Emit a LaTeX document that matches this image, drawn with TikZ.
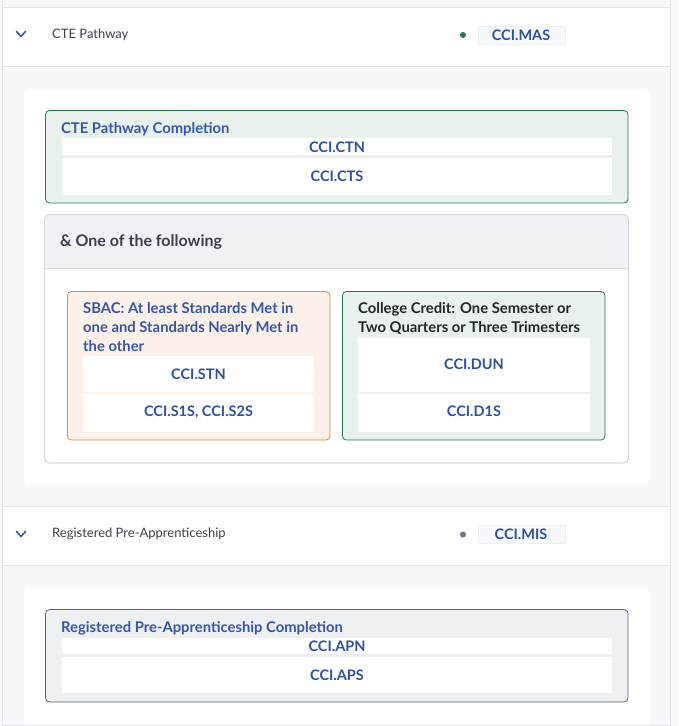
\documentclass[tikz,border=0pt]{standalone}
\usepackage{fontspec}
\setmainfont{Lato}
\definecolor{pagebg}{HTML}{F7F8FA}
\definecolor{linec}{HTML}{E3E6EB}
\definecolor{codeblue}{HTML}{2F4F9F}
\definecolor{titleblue}{HTML}{3556A8}
\definecolor{greenbd}{HTML}{1E7B4F}
\definecolor{greenbg}{HTML}{E8F1EC}
\definecolor{orangebd}{HTML}{E08A3C}
\definecolor{orangebg}{HTML}{FBF1E8}
\definecolor{graybd}{HTML}{5A6275}
\definecolor{graybg}{HTML}{EFF0F2}
\definecolor{headbg}{HTML}{F1F2F6}
\definecolor{headbd}{HTML}{D5D8DE}
\definecolor{darktext}{HTML}{3A3F4B}
\definecolor{chipbg}{HTML}{F7F8FA}
\definecolor{chipbd}{HTML}{EDEFF3}
\definecolor{dotgray}{HTML}{6B7080}
\tikzset{
  rowline/.style={draw=linec, line width=1pt},
  codetext/.style={font=\bfseries\fontsize{14.5}{17}\selectfont, text=codeblue, inner sep=0pt},
  titletext/.style={font=\bfseries\fontsize{14.8}{19}\selectfont, text=titleblue, anchor=west, inner sep=0pt, align=left},
  headtext/.style={font=\fontsize{13}{15}\selectfont, text=darktext, anchor=west, inner sep=0pt},
  whiterow/.style={fill=white},
  chip/.style={fill=chipbg, draw=chipbd, line width=0.6pt},
  chev/.style={draw=codeblue, line width=1.5pt, line cap=round, line join=round},
}
\begin{document}
\begin{tikzpicture}[x=1pt,y=-1pt]
\useasboundingbox (0,0) rectangle (678,726);
\fill[pagebg] (0,0) rectangle (678,726);
\draw[rowline] (2.5,0) -- (2.5,726);
\draw[rowline] (670.5,0) -- (670.5,726);
% header 1
\fill[white] (3,7.5) rectangle (670,66);
\draw[rowline] (3,7.5) -- (670,7.5);
\draw[rowline] (3,66) -- (670,66);
\draw[chev] (16.5,31.5) -- (21,36.5) -- (25.5,31.5);
\node[headtext] (h1) at (52,34.5) {CTE Pathway};
\fill[greenbd] (463,35) circle (3);
\path[chip] (478,26) rectangle (565,44);
\node[codetext] (mas) at (521,35) {CCI.MAS};
% card 1
\fill[white, rounded corners=6pt] (24,89) rectangle (650,484);
% CTE completion
\filldraw[fill=greenbg, draw=greenbd, line width=0.8pt, rounded corners=4pt] (45.5,110.5) rectangle (628,203);
\node[titletext] (ctet) at (61,129) {CTE Pathway Completion};
\fill[whiterow] (62,138) rectangle (612,155);
\node[codetext] (ctn) at (337,147) {CCI.CTN};
\fill[whiterow] (62,157.5) rectangle (612,194.5);
\node[codetext] (cts) at (337,176) {CCI.CTS};
% one of the following
\filldraw[fill=white, draw=headbd, line width=0.8pt, rounded corners=5pt] (44.5,214.5) rectangle (628.5,463);
\begin{scope}
\clip[rounded corners=5pt] (44.5,214.5) rectangle (628.5,463);
\fill[headbg] (44.5,214.5) rectangle (628.5,268);
\end{scope}
\draw[draw=headbd, line width=0.8pt, rounded corners=5pt] (44.5,214.5) rectangle (628.5,463);
\draw[draw=headbd, line width=0.8pt] (44.5,268) -- (628.5,268);
\node[font=\bfseries\fontsize{16}{18}\selectfont, text=darktext, anchor=west, inner sep=0pt] (oneof) at (60,241.5) {\& One of the following};
% SBAC
\filldraw[fill=orangebg, draw=orangebd, line width=0.8pt, rounded corners=4pt] (67.5,291.5) rectangle (330,440);
\node[titletext, anchor=north west] (sbac) at (83,302.5) {SBAC: At least Standards Met in\\one and Standards Nearly Met in\\the other};
\fill[whiterow] (83,356) rectangle (314,391.5);
\node[codetext] (stn) at (198.5,374) {CCI.STN};
\fill[whiterow] (83,394) rectangle (314,431.5);
\node[codetext] (s1s) at (198.5,412) {CCI.S1S, CCI.S2S};
% College credit
\filldraw[fill=greenbg, draw=greenbd, line width=0.8pt, rounded corners=4pt] (342.5,291.5) rectangle (605,440);
\node[titletext, text=black!85, anchor=north west] (cc) at (358,302.5) {College Credit: One Semester or\\Two Quarters or Three Trimesters};
\fill[whiterow] (358,338) rectangle (590,391.5);
\node[codetext] (dun) at (474,364) {CCI.DUN};
\fill[whiterow] (358,394) rectangle (590,431.5);
\node[codetext] (d1s) at (474,411) {CCI.D1S};
% header 2
\fill[white] (3,507) rectangle (670,565);
\draw[rowline] (3,506.5) -- (670,506.5);
\draw[rowline] (3,565) -- (670,565);
\draw[chev] (16.5,531.5) -- (21,536.5) -- (25.5,531.5);
\node[headtext] (h2) at (52,534) {Registered Pre-Apprenticeship};
\fill[dotgray] (463,534.5) circle (3);
\path[chip] (478,525) rectangle (565,543);
\node[codetext] (mis) at (521,534.5) {CCI.MIS};
% card 2
\begin{scope}
\clip (0,0) rectangle (678,725);
\fill[white, rounded corners=6pt] (24,588) rectangle (650,740);
\end{scope}
\draw[rowline] (3,725.5) -- (670,725.5);
\filldraw[fill=graybg, draw=graybd, line width=0.8pt, rounded corners=4pt] (45.5,609.5) rectangle (628,702);
\node[titletext] (rpt) at (61,628) {Registered Pre-Apprenticeship Completion};
\fill[whiterow] (62,637.5) rectangle (612,654);
\node[codetext] (apn) at (337,646) {CCI.APN};
\fill[whiterow] (62,656.5) rectangle (612,693);
\node[codetext] (aps) at (337,675) {CCI.APS};
\end{tikzpicture}
\end{document}
